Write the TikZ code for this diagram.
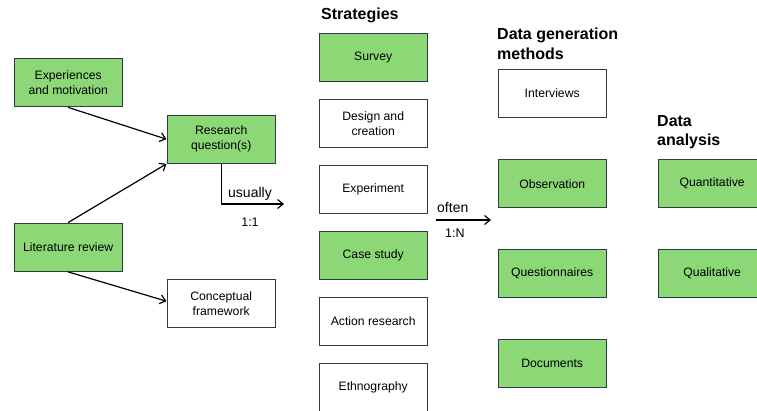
\documentclass[tikz,border=0pt]{standalone}
\usepackage{fontspec}
\setmainfont{Liberation Sans}
\usetikzlibrary{arrows.meta}
\definecolor{boxgreen}{RGB}{140,216,118}
\definecolor{boxline}{RGB}{44,60,70}
\begin{document}
\begin{tikzpicture}[x=1pt,y=-1pt,
  box/.style={draw=boxline, line width=1.4pt, minimum width=108pt, minimum height=48pt,
    inner sep=2pt, align=center, anchor=north west,
    font=\fontsize{12.2}{15}\selectfont},
  gbox/.style={box, fill=boxgreen},
  wbox/.style={box, fill=white},
  heading/.style={anchor=north west, inner sep=0pt, align=left,
    font=\fontsize{16}{19.5}\selectfont\bfseries},
  link/.style={line width=1.2pt, -{Straight Barb[length=5.5pt,width=9pt]}},
  lbl/.style={inner sep=0pt, font=\fontsize{14}{16}\selectfont}]
\useasboundingbox (0,0) rectangle (757,410);

% left column
\node[gbox] (exp) at (13.5,58) {Experiences\\and motivation};
\node[gbox] (lit) at (13.5,222.5) {Literature review};
\node[gbox] (rq) at (166.5,114.5) {Research\\question(s)};
\node[wbox] (conc) at (166.5,278.5) {Conceptual\\framework};

\draw[link] (exp.south) -- (rq.west);
\draw[link] (lit.north) -- (rq.south west);
\draw[link] (lit.south) -- ([yshift=2pt]conc.west);

\coordinate (u1) at (284,204);
\draw[link] (rq.south) |- (u1);
\node[lbl, anchor=base] (usually) at (250,197) {usually};
\node[lbl, anchor=base, font=\fontsize{12.5}{14}\selectfont] (one) at (250,226) {1:1};

% strategies
\node[heading] (hstrat) at (321,8) {Strategies};
\node[gbox] (survey) at (318.5,32.5) {Survey};
\node[wbox] (design) at (318.5,98.5) {Design and\\creation};
\node[wbox] (experiment) at (318.5,164.5) {Experiment};
\node[gbox] (case) at (318.5,230.5) {Case study};
\node[wbox] (action) at (318.5,296.5) {Action research};
\node[wbox] (ethno) at (318.5,362.5) {Ethnography};

\coordinate (o1) at (436,220);
\coordinate (o2) at (491,220);
\draw[link] (o1) -- (o2);
\node[lbl, anchor=base west] (often) at (437,212) {often};
\node[lbl, anchor=base west, font=\fontsize{12.5}{14}\selectfont] (oneN) at (445,237) {1:N};

% data generation methods
\node[heading] (hgen) at (497,28) {Data generation\\methods};
\node[wbox] (interviews) at (497.5,68.5) {Interviews};
\node[gbox] (observation) at (497.5,159) {Observation};
\node[gbox] (questionnaires) at (497.5,248.5) {Questionnaires};
\node[gbox] (documents) at (497.5,338.5) {Documents};

% data analysis
\node[heading] (hana) at (657,115) {Data\\analysis};
\node[gbox] (quant) at (657.5,159) {Quantitative};
\node[gbox] (qual) at (657.5,248.5) {Qualitative};
\end{tikzpicture}
\end{document}
